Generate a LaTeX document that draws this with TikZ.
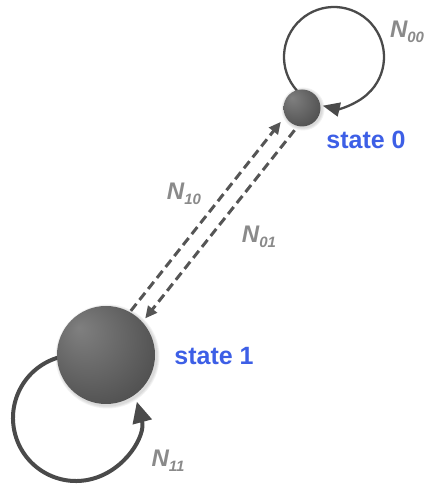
\documentclass[tikz,border=0pt]{standalone}
\usepackage{fontspec}
\setmainfont{Liberation Sans}
\usetikzlibrary{arrows.meta,calc}
\definecolor{lblgray}{HTML}{8A8A8A}
\definecolor{stblue}{HTML}{3D5FE6}
\definecolor{lngray}{HTML}{4A4A4A}
\definecolor{dshgray}{HTML}{555555}
\pgfdeclareradialshading{stateball}{\pgfpoint{-14bp}{14bp}}{color(0bp)=(black!50); color(22bp)=(black!62); color(45bp)=(black!75); color(55bp)=(black!80)}
\newcommand\Nlab[1]{{\fontsize{24}{24}\selectfont\bfseries\itshape N\raisebox{-5pt}{\fontsize{15}{15}\selectfont #1}}}
\tikzset{
  stateball/.style={circle, shading=stateball, inner sep=0pt},
  ballshadow/.style={circle, fill=black, opacity=0.05, inner sep=0pt},
  statetext/.style={font=\fontsize{25}{25}\selectfont\bfseries, text=stblue, inner sep=0pt},
  nlabel/.style={text=lblgray, inner sep=0pt},
  loopthin/.style={draw=lngray, line width=2.3pt, -{Triangle[length=17pt,width=14pt]}},
  loopthick/.style={draw=lngray, line width=4pt, -{Triangle[length=21pt,width=19pt]}},
  dashconn/.style={draw=dshgray, line width=3pt, dash pattern=on 9pt off 5pt, -{Triangle[length=12pt,width=11pt]}}
}
\begin{document}
\begin{tikzpicture}[x=1pt,y=1pt]
\useasboundingbox (0,0) rectangle (429,486);
% loop centres
\coordinate (c0) at (334,429);
\coordinate (c1) at (76,68);
% loops (drawn under balls)
\draw[loopthin] ($(c0)+(222:50)$) arc[start angle=222, end angle=-103, radius=50];
\draw[loopthick] ($(c1)+(105:63)$) arc[start angle=105, end angle=375, radius=63];
% soft shadows
\foreach \e in {2,4,6}{
  \node[ballshadow, minimum size=37pt+\e pt] at (303,377) {};
  \node[ballshadow, minimum size=98pt+\e pt] at (107.5,129.5) {};
}
% states
\node[stateball, minimum size=37pt] (s0) at (302,378) {};
\node[stateball, minimum size=98pt] (s1) at (106,131) {};
% offset lanes for dashed connectors
\coordinate (s1L) at ($(s1)!8pt!90:(s0)$);
\coordinate (s0L) at ($(s0)!8pt!-90:(s1)$);
\coordinate (s1R) at ($(s1)!8pt!-90:(s0)$);
\coordinate (s0R) at ($(s0)!8pt!90:(s1)$);
\draw[dashconn, shorten <=50pt, shorten >=24pt] (s1L) -- (s0L);
\draw[dashconn, shorten <=22pt, shorten >=53pt] (s0R) -- (s1R);
% labels
\node[statetext] (t0) at (366,346) {state 0};
\node[statetext] (t1) at (214,130) {state 1};
\node[nlabel] (n00) at (407,454) {\Nlab{00}};
\node[nlabel] (n10) at (184,292) {\Nlab{10}};
\node[nlabel] (n01) at (259,249) {\Nlab{01}};
\node[nlabel] (n11) at (168,25) {\Nlab{11}};
\end{tikzpicture}
\end{document}
